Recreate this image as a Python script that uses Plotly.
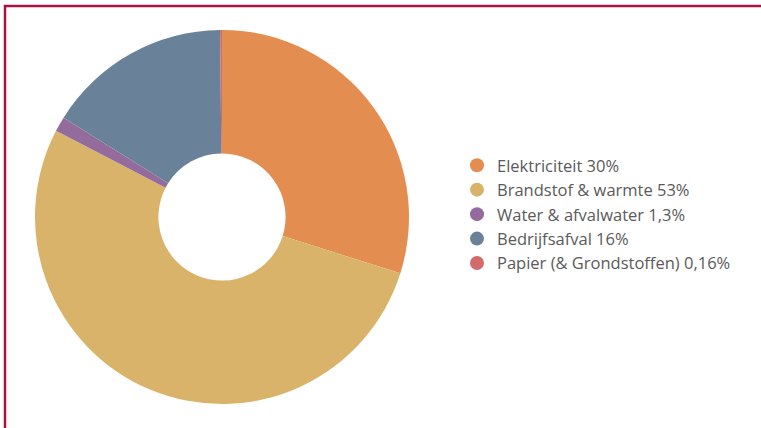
import plotly.graph_objects as go

categories = ["Elektriciteit", "Brandstof & warmte", "Water & afvalwater", "Bedrijfsafval", "Papier (& Grondstoffen)"]
pct_labels = ["30%", "53%", "1,3%", "16%", "0,16%"]
values = [30, 53, 1.3, 16, 0.16]
colors = ["#E38E50", "#DAB36A", "#936B9D", "#6A8299", "#D26B6B"]

W, H = 761, 428
cx, cy, r = 222, 217, 187

fig = go.Figure()
fig.add_trace(go.Pie(
    labels=categories, values=values, hole=0.34, sort=False,
    direction="clockwise", rotation=0,
    marker=dict(colors=colors, line=dict(width=0)),
    textinfo="none", showlegend=False,
    domain=dict(x=[(cx - r) / W, (cx + r) / W], y=[1 - (cy + r) / H, 1 - (cy - r) / H]),
))

for i, (c, p, col) in enumerate(zip(categories, pct_labels, colors)):
    fig.add_trace(go.Scatter(
        x=[None], y=[None], mode="markers", name=f"{c} {p}",
        marker=dict(symbol="circle", size=14, color=col),
        legendgroup=f"g{i}", showlegend=True,
    ))

fig.update_layout(
    width=W, height=H,
    margin=dict(l=0, r=0, t=0, b=0),
    paper_bgcolor="white", plot_bgcolor="white",
    xaxis=dict(visible=False), yaxis=dict(visible=False),
    legend=dict(
        x=457 / W, y=1 - 148 / H, xanchor="left", yanchor="top",
        font=dict(family="Open Sans", size=16.5, color="#5a5a5a"),
        traceorder="grouped", tracegroupgap=0,
        bgcolor="rgba(0,0,0,0)",
    ),
    shapes=[
        dict(type="line", xref="paper", yref="paper", x0=4 / W, x1=1, y0=1 - 6 / H, y1=1 - 6 / H,
             line=dict(color="#A8143F", width=2.5)),
        dict(type="line", xref="paper", yref="paper", x0=5 / W, x1=5 / W, y0=0, y1=1 - 5 / H,
             line=dict(color="#A8143F", width=2.5)),
    ],
)

fig.write_html("out.html", config={"displayModeBar": False},
               post_script="document.body.style.margin='0';")
